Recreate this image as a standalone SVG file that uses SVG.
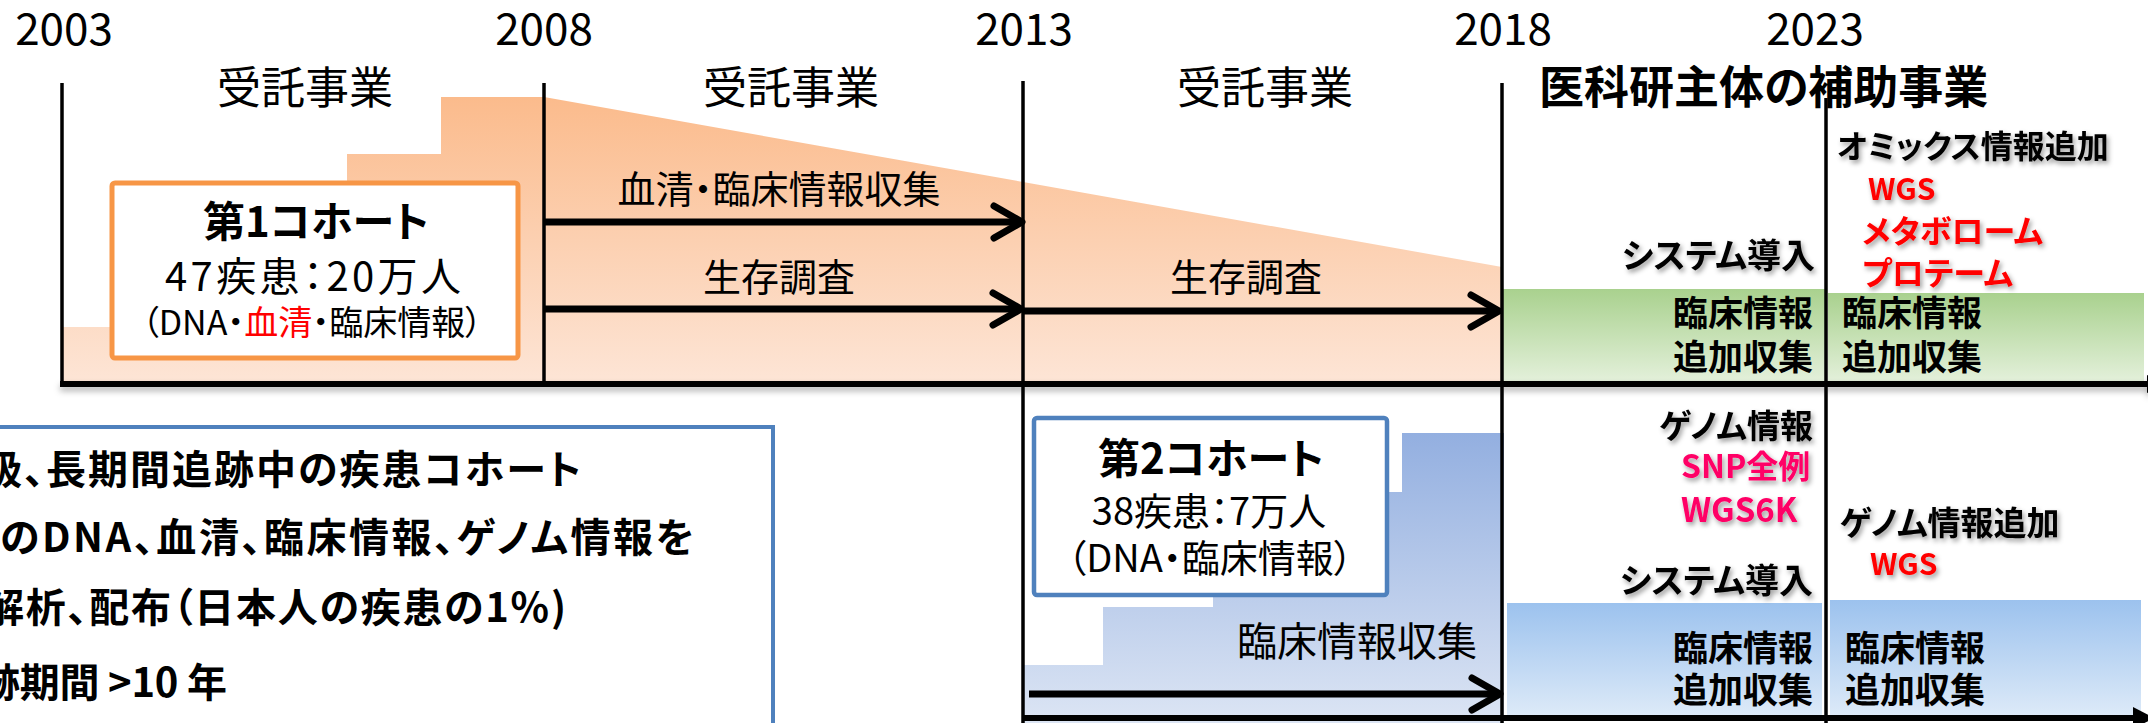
<svg xmlns="http://www.w3.org/2000/svg" width="2148" height="723" viewBox="0 0 2148 723">
<style>
text { font-family: "Noto Sans CJK JP", "Noto Sans", sans-serif; font-feature-settings: "palt"; fill: #000; }
.yr { font-size: 44px; text-anchor: middle; }
.hd { font-size: 44px; text-anchor: middle; }
.b { font-weight: bold; }
.mid { text-anchor: middle; }
.end { text-anchor: end; }
.red { fill: #FF0000; }
.pink { fill: #FF0066; }
.sh { filter: url(#ts); }
.tl { stroke: #000; stroke-width: 3.5; fill: none; }
.hl { stroke: #000; stroke-width: 6; fill: none; }
.arw { stroke: #000; stroke-width: 7; fill: none; marker-end: url(#ah); }
</style>
<defs>
<linearGradient id="gOr" x1="0" y1="97" x2="0" y2="383" gradientUnits="userSpaceOnUse">
<stop offset="0" stop-color="#FBBB8C"/><stop offset="1" stop-color="#FDE5D6"/>
</linearGradient>
<linearGradient id="gBl" x1="0" y1="433" x2="0" y2="723" gradientUnits="userSpaceOnUse">
<stop offset="0" stop-color="#93AFE0"/><stop offset="1" stop-color="#DCE5F4"/>
</linearGradient>
<linearGradient id="gGr" x1="0" y1="0" x2="0" y2="1">
<stop offset="0" stop-color="#A9D18E"/><stop offset="1" stop-color="#E3F0DA"/>
</linearGradient>
<linearGradient id="gLb" x1="0" y1="0" x2="0" y2="1">
<stop offset="0" stop-color="#9CC2EE"/><stop offset="1" stop-color="#DDEAF8"/>
</linearGradient>
<filter id="ts" x="-10%" y="-30%" width="130%" height="180%">
<feDropShadow dx="2" dy="3" stdDeviation="2.5" flood-color="#000" flood-opacity="0.4"/>
</filter>
<filter id="ls" filterUnits="userSpaceOnUse" x="0" y="0" width="2148" height="723">
<feDropShadow dx="0" dy="4" stdDeviation="3" flood-color="#000" flood-opacity="0.3"/>
</filter>
<marker id="ah" markerUnits="userSpaceOnUse" viewBox="-40 -24 48 48" refX="0" refY="0" markerWidth="48" markerHeight="48" orient="auto" overflow="visible">
<path d="M-28,-16 L0,0 L-28,16" fill="none" stroke="#000" stroke-width="7" stroke-linecap="round" stroke-linejoin="round"/>
</marker>
</defs>

<rect x="0" y="0" width="2148" height="723" fill="#FFFFFF"/>

<!-- background fills -->
<g id="bands">
<polygon points="62,383 62,327 347,327 347,154 441,154 441,97 544,97 1502,267 1502,383" fill="url(#gOr)"/>
<polygon points="1023,723 1023,665 1103,665 1103,607 1213,607 1213,549 1310,549 1310,492 1402,492 1402,433 1504,433 1504,723" fill="url(#gBl)"/>
<rect x="1502" y="289" width="323" height="92" fill="url(#gGr)"/>
<rect x="1828" y="293" width="316" height="88" fill="url(#gGr)"/>
<rect x="1507" y="603" width="315" height="113" fill="url(#gLb)"/>
<rect x="1830" y="600" width="311" height="116" fill="url(#gLb)"/>
</g>

<!-- timeline axes and arrows -->
<g id="connectors">
<line class="tl" x1="62" y1="83" x2="62" y2="383"/>
<line class="tl" x1="544" y1="83" x2="544" y2="383"/>
<line class="tl" x1="1023" y1="81" x2="1023" y2="723"/>
<line class="tl" x1="1502" y1="83" x2="1502" y2="723"/>
<line class="tl" x1="1826" y1="98" x2="1826" y2="723"/>
<g filter="url(#ls)">
<line class="hl" x1="60" y1="384" x2="2148" y2="384"/>
<polygon points="2147,375 2166,384 2147,393" fill="#000"/>
</g>
<line class="hl" x1="1023" y1="718" x2="2140" y2="718"/>
<polygon points="2133,707 2154,718 2133,729" fill="#000"/>
<line class="arw" x1="544" y1="222" x2="1022" y2="222"/>
<line class="arw" x1="544" y1="309" x2="1021" y2="309"/>
<line class="arw" x1="1023" y1="311" x2="1499" y2="311"/>
<line class="arw" x1="1029" y1="694" x2="1500" y2="694"/>
</g>

<g id="years">
<text class="yr" x="64" y="45">2003</text>
<text class="yr" x="544" y="45">2008</text>
<text class="yr" x="1024" y="45">2013</text>
<text class="yr" x="1503" y="45">2018</text>
<text class="yr" x="1815" y="45">2023</text>
</g>

<g id="headers">
<text class="hd" x="305" y="104">受託事業</text>
<text class="hd" x="791" y="104">受託事業</text>
<text class="hd" x="1265" y="104">受託事業</text>
<text class="b" x="1539" y="104" font-size="45">医科研主体の補助事業</text>
</g>

<g id="cohort1">
<rect x="112" y="183" width="406" height="175" rx="3" fill="#FFFFFF" stroke="#F79646" stroke-width="5"/>
<text class="b mid" x="316" y="237" font-size="42">第1コホート</text>
<text class="mid" x="313" y="291" font-size="40" textLength="296" lengthAdjust="spacing">47疾患：20万人</text>
<text class="mid" x="312" y="335" font-size="34">（DNA・<tspan class="red">血清</tspan>・臨床情報）</text>
</g>

<g id="labels-phase1">
<text class="mid" x="779" y="203" font-size="38">血清・臨床情報収集</text>
<text class="mid" x="779" y="291" font-size="38">生存調査</text>
<text class="mid" x="1246" y="291" font-size="38">生存調査</text>
</g>

<g id="cohort1-2018">
<text class="b end sh" x="1815" y="268" font-size="34">システム導入</text>
<text class="b end" x="1813" y="326" font-size="35">臨床情報</text>
<text class="b end" x="1813" y="370" font-size="35">追加収集</text>
</g>

<g id="cohort1-2023">
<text class="b sh" x="1837" y="158" font-size="32">オミックス情報追加</text>
<text class="b red sh" x="1868" y="200" font-size="30">WGS</text>
<text class="b red sh" x="1862" y="243" font-size="32">メタボローム</text>
<text class="b red sh" x="1862" y="285" font-size="32">プロテーム</text>
<text class="b" x="1842" y="326" font-size="35">臨床情報</text>
<text class="b" x="1842" y="370" font-size="35">追加収集</text>
</g>

<g id="description">
<rect x="-10" y="427" width="783" height="320" fill="#FFFFFF" stroke="#4F81BD" stroke-width="4"/>
<text class="b" x="-18" y="484" font-size="40" textLength="599" lengthAdjust="spacing">級、長期間追跡中の疾患コホート</text>
<text class="b" x="0" y="552" font-size="40" textLength="694" lengthAdjust="spacing">のDNA、血清、臨床情報、ゲノム情報を</text>
<text class="b" x="-16" y="622" font-size="40" textLength="582" lengthAdjust="spacing">解析、配布（日本人の疾患の1%)</text>
<text class="b" x="-20" y="697" font-size="40" textLength="247" lengthAdjust="spacing">跡期間 &gt;10 年</text>
</g>

<g id="cohort2">
<rect x="1034" y="418" width="353" height="177" rx="3" fill="#FFFFFF" stroke="#4F81BD" stroke-width="4.5"/>
<text class="b mid" x="1211" y="474" font-size="42">第2コホート</text>
<text class="mid" x="1209" y="525" font-size="38">38疾患：7万人</text>
<text class="mid" x="1210" y="572" font-size="38">（DNA・臨床情報）</text>
</g>

<g id="labels-phase2">
<text class="end" x="1477" y="656" font-size="40">臨床情報収集</text>
</g>

<g id="cohort2-2018">
<text class="b end sh" x="1813" y="438" font-size="33">ゲノム情報</text>
<text class="b pink sh" x="1681" y="478" font-size="32">SNP全例</text>
<text class="b pink sh" x="1681" y="522" font-size="33">WGS6K</text>
<text class="b end sh" x="1813" y="593" font-size="34">システム導入</text>
<text class="b end" x="1813" y="661" font-size="35">臨床情報</text>
<text class="b end" x="1813" y="703" font-size="35">追加収集</text>
</g>

<g id="cohort2-2023">
<text class="b sh" x="1840" y="535" font-size="33">ゲノム情報追加</text>
<text class="b red sh" x="1870" y="575" font-size="30">WGS</text>
<text class="b" x="1845" y="661" font-size="35">臨床情報</text>
<text class="b" x="1845" y="703" font-size="35">追加収集</text>
</g>
</svg>
